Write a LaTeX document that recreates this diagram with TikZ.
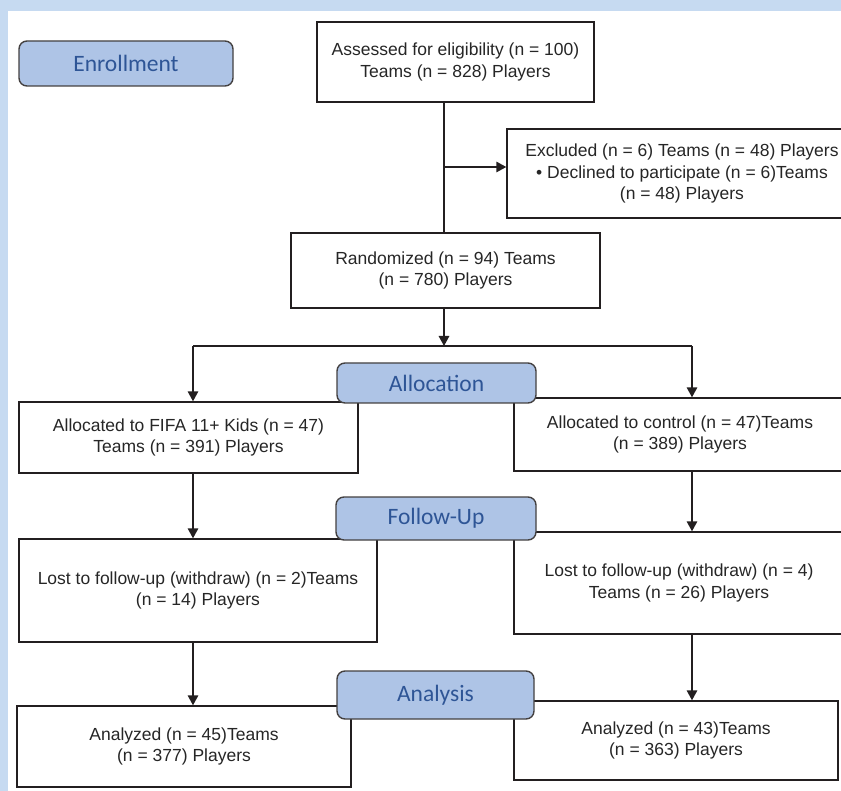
\documentclass[tikz,border=0pt]{standalone}
\usepackage{fontspec}
\setmainfont{Liberation Sans}
\newfontfamily\labelfont{Carlito}
\usetikzlibrary{arrows.meta}
\definecolor{bandblue}{HTML}{C6DAF1}
\definecolor{labelfill}{HTML}{AEC4E6}
\definecolor{labeltext}{HTML}{2E5596}
\definecolor{linecol}{HTML}{231F20}
\tikzset{
  flowbox/.style={draw=linecol, line width=1.4pt, fill=white, inner sep=0pt, align=center,
    font=\fontsize{17.5}{21.5}\selectfont, text=black!85},
  stagelabel/.style={draw=linecol!85, line width=1.4pt, fill=labelfill, rounded corners=8pt,
    inner sep=0pt, font=\labelfont\fontsize{23.5}{26}\selectfont, text=labeltext},
  conn/.style={draw=linecol, line width=1.5pt},
  arr/.style={conn, -{Triangle[length=10pt,width=10.5pt]}}
}
\begin{document}
\begin{tikzpicture}[x=1pt,y=-1pt]
\useasboundingbox (0,0) rectangle (841,791);
\clip (0,0) rectangle (841,791);
\fill[bandblue] (0,0) rectangle (841,791);
\fill[white] (8,11) rectangle (841,791);
% named columns
\coordinate (spine) at (444,0);
\coordinate (colL) at (193,0);
\coordinate (colR) at (692,0);
% boxes
\node[flowbox, minimum width=277pt, minimum height=80pt] (assess) at (455.5,62)
  {Assessed for eligibility (n = 100)\\Teams (n = 828) Players};
\node[flowbox, minimum width=350pt, minimum height=89pt] (excl) at (682,173.5)
  {Excluded (n = 6) Teams (n = 48) Players\\• Declined to participate (n = 6)Teams\\(n = 48) Players};
\node[flowbox, minimum width=309pt, minimum height=75pt] (rand) at (445.5,270.5)
  {Randomized (n = 94) Teams\\(n = 780) Players};
\node[flowbox, minimum width=339pt, minimum height=71pt] (allocL) at (188.5,437.5)
  {Allocated to FIFA 11+ Kids (n = 47)\\Teams (n = 391) Players};
\node[flowbox, minimum width=332pt, minimum height=73pt] (allocR) at (680,434.5)
  {Allocated to control (n = 47)Teams\\(n = 389) Players};
\node[flowbox, minimum width=358pt, minimum height=103pt] (lostL) at (198,590.5)
  {Lost to follow-up (withdraw) (n = 2)Teams\\(n = 14) Players};
\node[flowbox, minimum width=330pt, minimum height=102pt] (lostR) at (679,583)
  {Lost to follow-up (withdraw) (n = 4)\\Teams (n = 26) Players};
\node[flowbox, minimum width=334pt, minimum height=81pt] (anaL) at (184,746.5)
  {Analyzed (n = 45)Teams\\(n = 377) Players};
\node[flowbox, minimum width=324pt, minimum height=79pt] (anaR) at (676,740.5)
  {Analyzed (n = 43)Teams\\(n = 363) Players};
% stage labels
\node[stagelabel, minimum width=214pt, minimum height=45pt] (enroll) at (126,63.5) {Enrollment};
\node[stagelabel, minimum width=199pt, minimum height=40pt] (alloc) at (436.5,383) {Allocation};
\node[stagelabel, minimum width=200pt, minimum height=43pt] (follow) at (436,518.5) {Follow-Up};
\node[stagelabel, minimum width=197pt, minimum height=48pt] (analysis) at (435.5,695) {Analysis};
% connectors
\coordinate (branch) at (444,167);
\coordinate (split) at (444,346);
\draw[conn] (assess.south -| spine) -- (rand.north -| spine);
\draw[arr] (branch) -- (branch -| excl.west);
\draw[arr] (rand.south -| spine) -- (split);
\draw[conn] (split -| colL) -- (split -| colR);
\draw[arr] (split -| colL) -- (allocL.north -| colL);
\draw[arr] (split -| colR) -- (allocR.north -| colR);
\draw[arr] (allocL.south -| colL) -- (lostL.north -| colL);
\draw[arr] (allocR.south -| colR) -- (lostR.north -| colR);
\draw[arr] (lostL.south -| colL) -- (anaL.north -| colL);
\draw[arr] (lostR.south -| colR) -- (anaR.north -| colR);
\end{tikzpicture}
\end{document}
